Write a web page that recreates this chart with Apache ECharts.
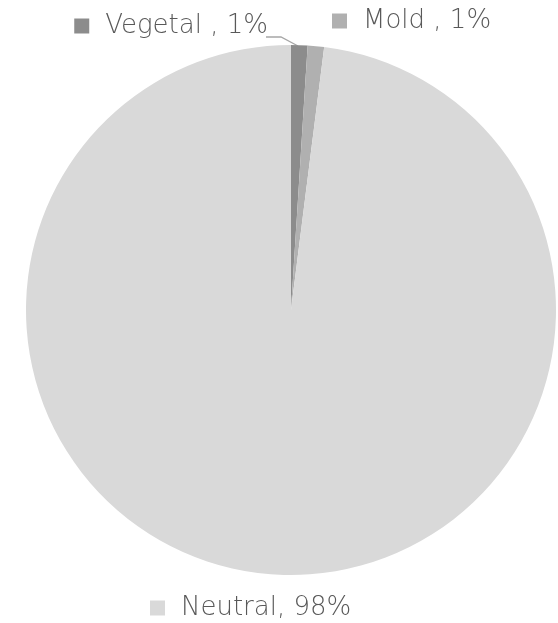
<!DOCTYPE html>
<html><head><meta charset="utf-8">
<script src="https://cdn.jsdelivr.net/npm/echarts@6/dist/echarts.min.js"></script>
<style>html,body{margin:0;padding:0;background:#fff}#c{width:558px;height:623px}</style>
</head><body><div id="c"></div>
<script>
const categories = ['Vegetal', 'Mold', 'Neutral'];
const values = [1, 1, 98];
const colors = ['#8c8c8c', '#b0b0b0', '#d9d9d9'];
const labelSeps = [' , ', ' , ', ', '];

const chart = echarts.init(document.getElementById('c'));
const rich = {
  t: { fontFamily: 'DejaVu Sans', fontWeight: 200, fontSize: 26, color: '#595959', padding: [0, 0, 0, 16] }
};
colors.forEach((c, i) => { rich['m' + i] = { width: 15, height: 15, backgroundColor: c }; });

const pos = [
  { x: 268, y: 26, align: 'right' },
  { x: 332, y: 21, align: 'left' },
  { x: 150, y: 608, align: 'left' }
];

chart.setOption({
  animation: false,
  series: [{
    type: 'pie',
    center: [291, 310],
    radius: [0, 265],
    startAngle: 90,
    clockwise: true,
    data: categories.map((n, i) => ({
      name: n, value: values[i],
      itemStyle: { color: colors[i] },
      labelLine: { show: i === 0, lineStyle: { color: '#a6a6a6', width: 1.3 }, smooth: false }
    })),
    label: {
      show: true,
      overflow: 'none',
      formatter: p => '{m' + p.dataIndex + '|}{t|' + p.name + labelSeps[p.dataIndex] + p.percent.toFixed(0) + '%}',
      rich: rich
    },
    labelLayout: function (p) {
      const q = pos[p.dataIndex];
      const r = { x: q.x, y: q.y, align: q.align, verticalAlign: 'middle' };
      if (p.dataIndex === 0) r.labelLinePoints = [[298, 46], [281, 37], [266, 37]];
      return r;
    }
  }]
});
</script></body></html>
